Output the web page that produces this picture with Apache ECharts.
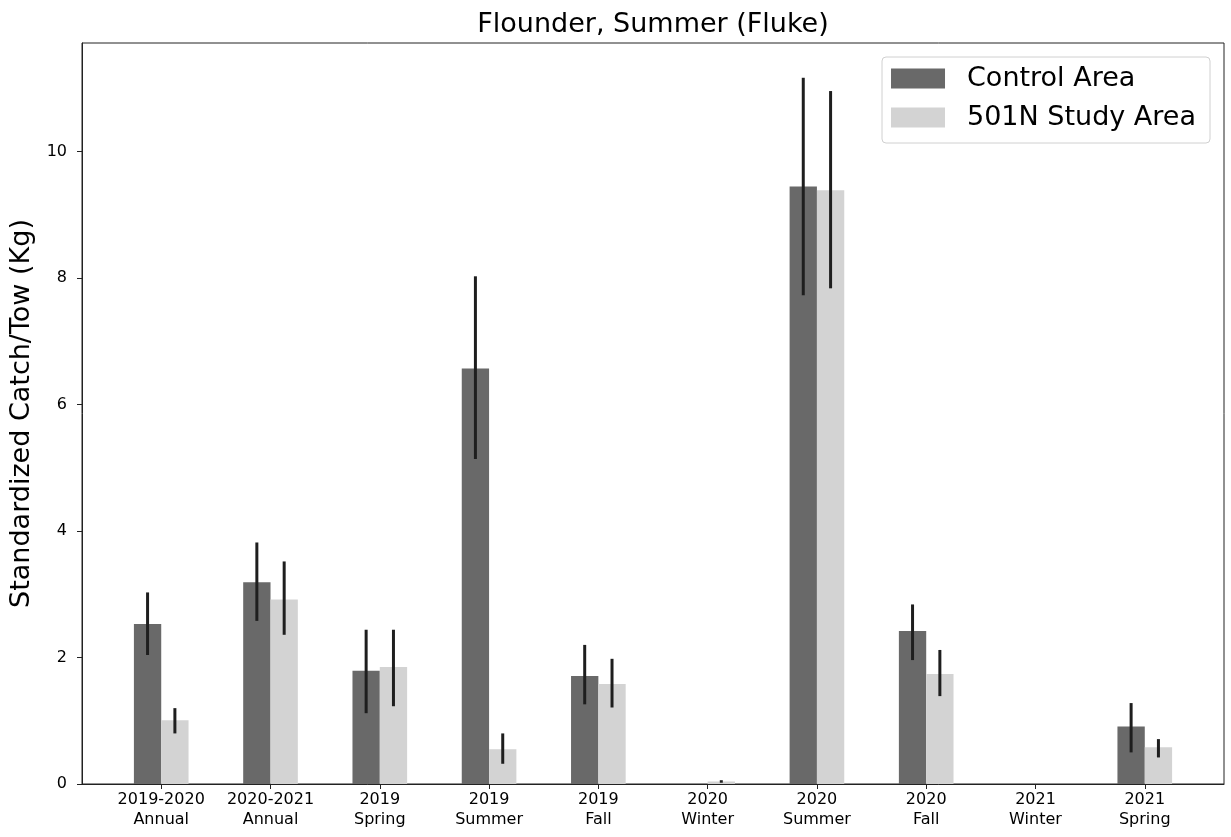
<!DOCTYPE html>
<html>
<head>
<meta charset="utf-8">
<script src="https://cdn.jsdelivr.net/npm/echarts@6/dist/echarts.min.js"></script>
<style>
  html, body { margin: 0; padding: 0; background: #fff; }
  #main { width: 1231px; height: 837px; }
</style>
</head>
<body>
<div id="main"></div>
<script>
// categories (two-line tick labels)
var categories = [
    '2019-2020\nAnnual', '2020-2021\nAnnual', '2019\nSpring', '2019\nSummer', '2019\nFall',
    '2020\nWinter', '2020\nSummer', '2020\nFall', '2021\nWinter', '2021\nSpring'
];

// Control Area: mean and error bar ends
var controlMean = [2.53, 3.19, 1.79, 6.57, 1.71, 0, 9.45, 2.42, 0, 0.91];
var controlLow  = [2.04, 2.58, 1.12, 5.14, 1.26, 0, 7.73, 1.96, 0, 0.50];
var controlHigh = [3.03, 3.82, 2.44, 8.03, 2.20, 0, 11.17, 2.84, 0, 1.28];

// 501N Study Area
var studyMean = [1.01, 2.92, 1.85, 0.55, 1.58, 0.04, 9.39, 1.74, 0, 0.58];
var studyLow  = [0.80, 2.36, 1.23, 0.32, 1.21, 0.02, 7.84, 1.39, 0, 0.42];
var studyHigh = [1.20, 3.52, 2.44, 0.80, 1.98, 0.06, 10.96, 2.12, 0, 0.71];

var yTicks = [0, 2, 4, 6, 8, 10];
var xTicks = categories.map(function (c, i) { return i; });

var font = 'DejaVu Sans';

function pairs(vals) {
    return vals.map(function (v, i) { return [i, v]; });
}
function errData(low, high) {
    return low.map(function (v, i) { return [i, v, high[i]]; });
}
function errRender(offset) {
    return function (params, api) {
        var x = api.value(0) + offset;
        var a = api.coord([x, api.value(1)]);
        var b = api.coord([x, api.value(2)]);
        return {
            type: 'line',
            shape: { x1: a[0], y1: a[1], x2: b[0], y2: b[1] },
            style: { stroke: '#1e1e1e', lineWidth: 3 }
        };
    };
}

var chart = echarts.init(document.getElementById('main'));
var option = {
    animation: false,
    backgroundColor: '#fff',
    title: {
        text: 'Flounder, Summer (Fluke)',
        left: 653,
        top: 11,
        padding: 0,
        textAlign: 'center',
        textStyle: { fontFamily: font, fontSize: 27, fontWeight: 'normal', color: '#000' }
    },
    legend: {
        data: ['Control Area', '501N Study Area'],
        orient: 'vertical',
        right: 21,
        top: 57,
        padding: [8, 14, 12, 9],
        itemGap: 12,
        itemWidth: 54,
        itemHeight: 20,
        icon: 'rect',
        borderColor: '#d0d0d0',
        borderWidth: 1,
        borderRadius: 4,
        backgroundColor: 'rgba(255,255,255,0.8)',
        textStyle: { fontFamily: font, fontSize: 27, color: '#000', padding: [0, 0, 0, 17] }
    },
    grid: {
        left: 82,
        right: 7,
        top: 43,
        bottom: 53,
        show: true,
        borderColor: '#222',
        borderWidth: 1,
        backgroundColor: 'transparent'
    },
    xAxis: {
        type: 'value',
        min: -0.725,
        max: 9.725,
        splitLine: { show: false },
        axisLine: { show: true, onZero: false, lineStyle: { color: '#222', width: 1 } },
        axisTick: { show: true, length: 5, customValues: xTicks, lineStyle: { color: '#222' } },
        axisLabel: {
            customValues: xTicks,
            margin: 6,
            fontFamily: font,
            fontSize: 16,
            lineHeight: 20,
            color: '#000',
            formatter: function (v) { return categories[Math.round(v)]; }
        }
    },
    yAxis: {
        type: 'value',
        min: 0,
        max: 11.72,
        name: 'Standardized Catch/Tow (Kg)',
        nameLocation: 'middle',
        nameGap: 44,
        nameTextStyle: { fontFamily: font, fontSize: 27, color: '#000' },
        splitLine: { show: false },
        axisLine: { show: true, onZero: false, lineStyle: { color: '#222', width: 1 } },
        axisTick: { show: true, length: 5, customValues: yTicks, lineStyle: { color: '#222' } },
        axisLabel: {
            customValues: yTicks,
            margin: 15,
            fontFamily: font,
            fontSize: 16,
            color: '#000'
        }
    },
    series: [
        {
            name: 'Control Area',
            type: 'bar',
            data: pairs(controlMean),
            barWidth: '25%',
            barGap: '0%',
            itemStyle: { color: '#696969' }
        },
        {
            name: '501N Study Area',
            type: 'bar',
            data: pairs(studyMean),
            barWidth: '25%',
            barGap: '0%',
            itemStyle: { color: '#d3d3d3' }
        },
        {
            name: 'control err',
            type: 'custom',
            renderItem: errRender(-0.125),
            encode: { x: 0, y: [1, 2] },
            data: errData(controlLow, controlHigh),
            z: 5
        },
        {
            name: 'study err',
            type: 'custom',
            renderItem: errRender(0.125),
            encode: { x: 0, y: [1, 2] },
            data: errData(studyLow, studyHigh),
            z: 5
        }
    ]
};
chart.setOption(option);
</script>
</body>
</html>
